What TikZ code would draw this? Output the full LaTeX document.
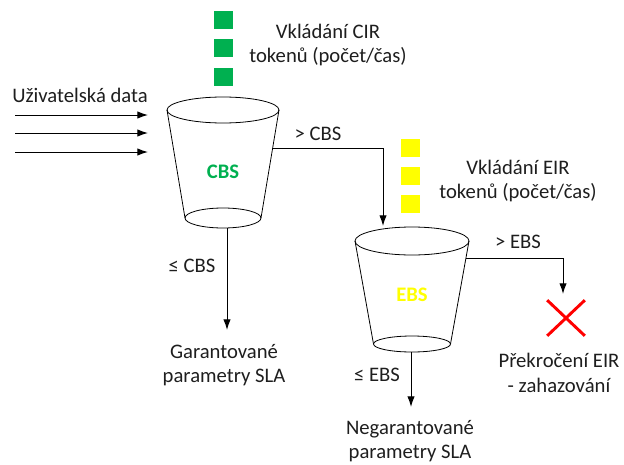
\documentclass[tikz,border=0pt]{standalone}
\usepackage{fontspec}
\setmainfont{Carlito}
\usetikzlibrary{arrows.meta,shapes.misc}

\definecolor{tokengreen}{RGB}{0,176,80}
\definecolor{tokenyellow}{RGB}{255,255,0}
\definecolor{inktext}{RGB}{30,30,30}

\tikzset{
  flow/.style={-{Latex[length=8pt,width=5.5pt]}, line width=0.75pt},
  bucket/.style={line width=0.6pt},
  token/.style={minimum width=14.25pt, minimum height=13.5pt, inner sep=0pt},
  txt/.style={align=center, text=inktext, inner sep=0pt,
    font=\fontsize{15.5}{18.5}\selectfont},
  fill label/.style={font=\fontsize{15.5}{18.5}\selectfont\bfseries, inner sep=0pt}
}

\begin{document}
\begin{tikzpicture}[x=0.75pt,y=-0.75pt]
\useasboundingbox (0,0) rectangle (624,464);

% CIR tokens
\node[token, fill=tokengreen] (cir1) at (223.5,20) {};
\node[token, fill=tokengreen] (cir2) at (223.5,48) {};
\node[token, fill=tokengreen] (cir3) at (223.5,77) {};
\node[txt] (cirtext) at (328,45) {Vkládání CIR\\tokenů (počet/čas)};

% EIR tokens
\node[token, fill=tokenyellow] (eir1) at (410,147.5) {};
\node[token, fill=tokenyellow] (eir2) at (410,175.5) {};
\node[token, fill=tokenyellow] (eir3) at (410,204) {};
\node[txt] (eirtext) at (518,181) {Vkládání EIR\\tokenů (počet/čas)};

% CBS bucket
\draw[bucket] (223,110) ellipse [x radius=42pt, y radius=9.75pt];
\draw[bucket] (223,218) ellipse [x radius=28.5pt, y radius=7.5pt];
\draw[bucket] (167,110) -- (185,218);
\draw[bucket] (279,110) -- (261,218);
\node[fill label, text=tokengreen] (cbs) at (223,172) {CBS};

% EBS bucket
\draw[bucket] (412,241) ellipse [x radius=42.75pt, y radius=10.5pt];
\draw[bucket] (412,344) ellipse [x radius=28.9pt, y radius=6pt];
\draw[bucket] (355,241) -- (373.5,344);
\draw[bucket] (469,241) -- (450.5,344);
\node[fill label, text=tokenyellow] (ebs) at (412,295) {EBS};

% User data
\node[txt] (data) at (80,95) {Uživatelská data};
\coordinate (in1) at (15,115);  \coordinate (to1) at (148,115);
\coordinate (in2) at (15,133);  \coordinate (to2) at (148,133);
\coordinate (in3) at (15,152);  \coordinate (to3) at (148,152);
\draw[flow] (in1) -- (to1);
\draw[flow] (in2) -- (to2);
\draw[flow] (in3) -- (to3);

% Connector points
\coordinate (cbsout) at (273,148);
\coordinate (ebsin) at (383,226);
\coordinate (cbsbot) at (227,228);
\coordinate (garin) at (227,330);
\coordinate (ebsout) at (466,258);
\coordinate (dropin) at (563,294);
\coordinate (ebsbot) at (411,352);
\coordinate (negin) at (411,407);

\draw[flow] (cbsout) -| (ebsin);
\draw[flow] (cbsbot) -- (garin);
\draw[flow] (ebsout) -| (dropin);
\draw[flow] (ebsbot) -- (negin);

% Discard mark
\node[cross out, draw=red, line width=2.2pt, minimum width=26pt,
  minimum height=24.5pt, inner sep=0pt] (drop) at (566,318) {};

% Labels
\node[txt] (gtcbs) at (318,134) {> CBS};
\node[txt] (lecbs) at (192,266) {≤ CBS};
\node[txt] (gtebs) at (518,242) {> EBS};
\node[txt] (leebs) at (377,375) {≤ EBS};
\node[txt] (garant) at (224,365) {Garantované\\parametry SLA};
\node[txt] (negarant) at (410,441) {Negarantované\\parametry SLA};
\node[txt] (discard) at (559,373) {Překročení EIR\\- zahazování};
\end{tikzpicture}
\end{document}
